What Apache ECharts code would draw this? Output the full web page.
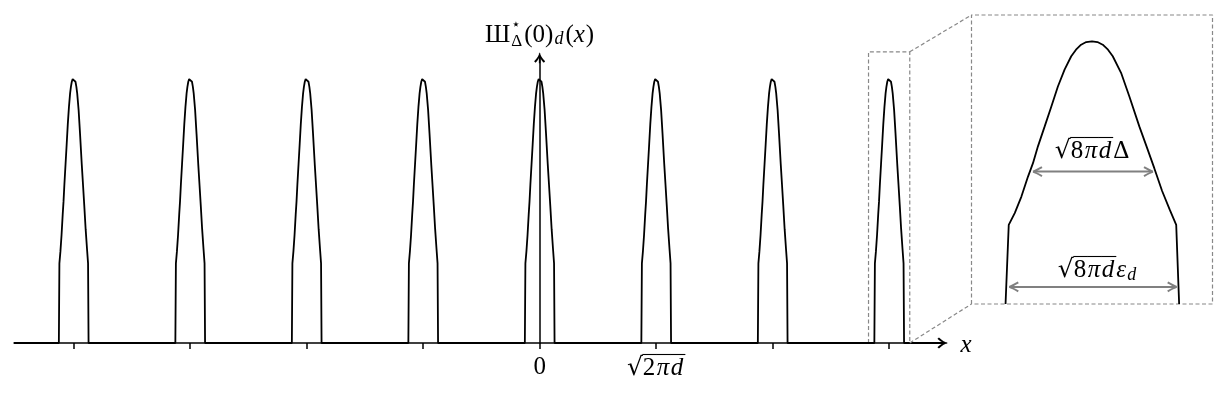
<!DOCTYPE html>
<html>
<head>
<meta charset="utf-8">
<script src="https://cdn.jsdelivr.net/npm/echarts@6/dist/echarts.min.js"></script>
<style>
  html, body { margin: 0; padding: 0; background: #fff; }
  #chart { width: 1227px; height: 397px; }
</style>
</head>
<body>
<div id="chart"></div>
<script>
// x in units of sqrt(2*pi*d), y relative to the peak height
const peakCenters = [-4, -3, -2, -1, 0, 1, 2, 3]
const tickValues = [-4, -3, -2, -1, 0, 1, 2, 3]
// one truncated peak (offset from centre / height)
const profileX = [-0.127, -0.1223, -0.1135, -0.1037, -0.094, -0.0867, -0.0794, -0.0695, -0.0597, -0.0501, -0.0403, -0.0305, -0.0235, -0.016, -0.0085, 0, 0.008, 0.0158, 0.0235, 0.0305, 0.0427, 0.0549, 0.0695, 0.0805, 0.0915, 0.103, 0.114, 0.1237, 0.128]
const profileY = [0, 0.301, 0.346, 0.409, 0.485, 0.536, 0.6, 0.676, 0.752, 0.828, 0.892, 0.943, 0.968, 0.987, 0.997, 1, 0.997, 0.987, 0.968, 0.943, 0.88, 0.79, 0.676, 0.597, 0.517, 0.43, 0.36, 0.301, 0]
const xRange = [-4.512, 3.458]
const yMax = 1.0775
// magnified window around the last peak
const zoomPeak = 3
const zoomRange = [2.823, 3.177]
const zoomTop = 1.1
// width arrows in the inset: [from, to, height], offsets from the peak centre
const widthDelta = [-0.0867, 0.0896, 0.504]
const widthEps = [-0.1215, 0.1244, 0.065]

const SERIF = '"Liberation Serif", "DejaVu Serif", serif'
const font = (size, italic) => (italic ? 'italic ' : '') + size + 'px ' + SERIF
const RAD = '25px "DejaVu Serif", serif'
const DASH = { color: '#888', width: 1.2, type: [4, 2.5] }
const ARROW = 'path://M5 0C5.6 2.5 7.2 5.4 10 8.2L8.8 9.6C6.8 7.6 5.6 5.6 5 3.4C4.4 5.6 3.2 7.6 1.2 9.6L0 8.2C2.8 5.4 4.4 2.5 5 0ZM4.3 1L5.7 1L5.7 10L4.3 10Z'

function peakPoints (c) {
  return profileX.map((dx, i) => [c + dx, profileY[i]])
}
let mainData = [[xRange[0], 0]]
peakCenters.forEach(c => { mainData = mainData.concat(peakPoints(c)) })
mainData.push([xRange[1], 0])

const chart = echarts.init(document.getElementById('chart'))
chart.setOption({
  animation: false,
  grid: [
    { left: 14, top: 57.8, width: 928.5, height: 285.2 },
    { left: 971.5, top: 15, width: 241, height: 289 }
  ],
  xAxis: [
    {
      type: 'value',
      gridIndex: 0,
      min: xRange[0],
      max: xRange[1],
      axisLine: { show: true, onZero: true, symbol: ['none', ARROW], symbolSize: [11, 11], lineStyle: { color: '#000', width: 1.5 } },
      axisTick: { show: true, customValues: tickValues, length: 6, lineStyle: { color: '#000', width: 1.5 } },
      axisLabel: { show: false },
      splitLine: { show: false }
    },
    { type: 'value', gridIndex: 1, min: zoomRange[0], max: zoomRange[1], show: false }
  ],
  yAxis: [
    {
      type: 'value',
      gridIndex: 0,
      min: 0,
      max: yMax,
      axisLine: { show: true, onZero: true, symbol: ['none', ARROW], symbolSize: [11, 11], lineStyle: { color: '#000', width: 1.5 } },
      axisTick: { show: false },
      axisLabel: { show: false },
      splitLine: { show: false }
    },
    { type: 'value', gridIndex: 1, min: 0, max: zoomTop, show: false }
  ],
  series: [
    {
      // window marking the magnified part
      type: 'line',
      xAxisIndex: 0,
      yAxisIndex: 0,
      clip: false,
      symbol: 'none',
      lineStyle: DASH,
      data: [[zoomRange[0], 0], [zoomRange[0], zoomTop], [zoomRange[1], zoomTop], [zoomRange[1], 0]]
    },
    {
      type: 'line',
      xAxisIndex: 0,
      yAxisIndex: 0,
      symbol: 'none',
      lineStyle: { color: '#000', width: 1.8 },
      data: mainData
    },
    {
      // inset frame
      type: 'line',
      xAxisIndex: 1,
      yAxisIndex: 1,
      clip: false,
      symbol: 'none',
      lineStyle: DASH,
      data: [[zoomRange[0], 0], [zoomRange[0], zoomTop], [zoomRange[1], zoomTop], [zoomRange[1], 0], [zoomRange[0], 0]]
    },
    {
      type: 'line',
      xAxisIndex: 1,
      yAxisIndex: 1,
      clip: false,
      symbol: 'none',
      lineStyle: { color: '#000', width: 1.8 },
      data: peakPoints(zoomPeak)
    }
  ]
})

// ---- annotations (text, connectors, width arrows) ----
const ctx = document.createElement('canvas').getContext('2d')
function textWidth (t, f) {
  ctx.font = f
  return ctx.measureText(t).width
}
function mathLabel (cx, cy, parts) {
  const widths = parts.map(p => p.stack ? 0 : textWidth(p.t, p.font) + (p.kern || 0))
  let x = cx - widths.reduce((a, b) => a + b, 0) / 2
  const out = []
  parts.forEach((p, i) => {
    out.push({
      type: 'text', x: x, y: cy + (p.dy || 0), z: 100,
      style: { text: p.t, font: p.font, fill: '#000', align: 'left', verticalAlign: 'middle', textAlign: 'left', textVerticalAlign: 'middle' }
    })
    if (p.over) {
      out.push({ type: 'line', z: 100, shape: { x1: x - 0.5, y1: cy - 13.5, x2: x + widths[i], y2: cy - 13.5 }, style: { stroke: '#000', lineWidth: 1.1 } })
    }
    x += widths[i]
  })
  return out
}
const px = (g, pt) => chart.convertToPixel({ gridIndex: g }, pt)

function dashed (a, b) {
  return { type: 'line', z: 5, shape: { x1: a[0], y1: a[1], x2: b[0], y2: b[1] }, style: { stroke: '#888', lineWidth: 1.2, lineDash: [4, 2.5] } }
}
function barb (tx, y, dir, sy) {
  // one curved barb of an open arrow head, tip at (tx, y)
  return { type: 'bezierCurve', z: 50, shape: { x1: tx, y1: y, x2: tx + dir * 9, y2: y + sy * 4.5, cpx1: tx + dir * 3, cpy1: y + sy * 1 }, style: { stroke: '#808080', lineWidth: 2, fill: null } }
}
function doubleArrow (span) {
  const a = px(1, [zoomPeak + span[0], span[2]])
  const b = px(1, [zoomPeak + span[1], span[2]])
  const y = a[1]
  return [
    { type: 'line', z: 50, shape: { x1: a[0] + 1, y1: y, x2: b[0] - 1, y2: y }, style: { stroke: '#808080', lineWidth: 2 } },
    barb(a[0], y, 1, -1), barb(a[0], y, 1, 1),
    barb(b[0], y, -1, -1), barb(b[0], y, -1, 1)
  ]
}
// square root of a product like 8πd, upright digit then italic letters
function rootParts (digit) {
  return [
    { t: '√', font: RAD },
    { t: digit, font: font(25), over: true, kern: 1.5 },
    { t: 'π', font: font(25, true), over: true, kern: 1.5 },
    { t: 'd', font: font(25, true), over: true, kern: 2 }
  ]
}

let graphics = []
graphics.push(dashed(px(0, [zoomRange[1], zoomTop]), px(1, [zoomRange[0], zoomTop])))
graphics.push(dashed(px(0, [zoomRange[1], 0]), px(1, [zoomRange[0], 0])))
graphics = graphics.concat(doubleArrow(widthDelta), doubleArrow(widthEps))

const origin = px(0, [0, 0])
const unit = px(0, [1, 0])
// tick labels at 0 and sqrt(2 pi d)
graphics = graphics.concat(mathLabel(origin[0], 367, [{ t: '0', font: font(25) }]))
graphics = graphics.concat(mathLabel(unit[0], 368, rootParts('2')))
// axis names
graphics = graphics.concat(mathLabel(966, 345, [{ t: 'x', font: font(25, true) }]))
graphics = graphics.concat(mathLabel(origin[0], 35, [
  { t: 'Ш', font: font(25), kern: 1 },
  { t: '⋆', font: '15px "DejaVu Sans"', dy: -10, stack: true },
  { t: 'Δ', font: font(17), dy: 7, kern: 2 },
  { t: '(0)', font: font(25), kern: 1 },
  { t: 'd', font: font(18, true), dy: 4, kern: 2 },
  { t: '(', font: font(25) },
  { t: 'x', font: font(25, true), kern: 1 },
  { t: ')', font: font(25) }
]))
// inset labels
graphics = graphics.concat(mathLabel(1092, 151, rootParts('8').concat([{ t: 'Δ', font: font(25) }])))
graphics = graphics.concat(mathLabel(1097, 270, rootParts('8').concat([
  { t: 'ε', font: font(25, true), kern: 1 },
  { t: 'd', font: font(18, true), dy: 5 }
])))

chart.setOption({ graphic: graphics })
</script>
</body>
</html>
